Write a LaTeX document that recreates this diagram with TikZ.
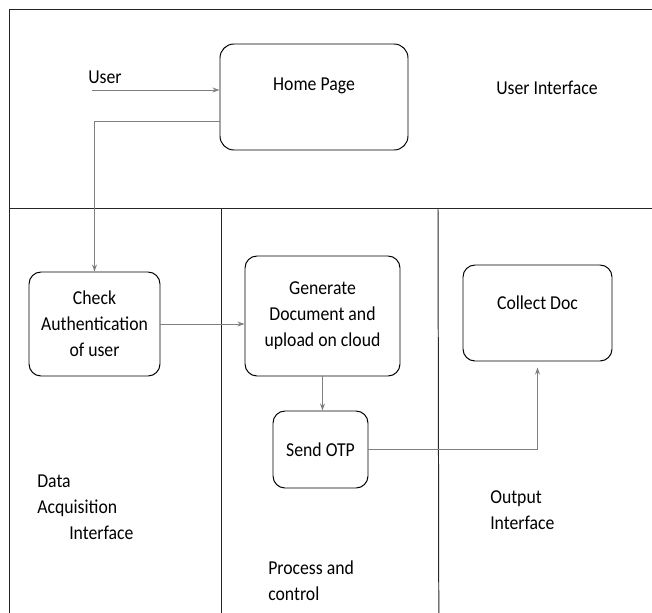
\documentclass[tikz,border=0pt]{standalone}
\usepackage{fontspec}
\setmainfont{Carlito}[FakeStretch=0.9]
\usetikzlibrary{arrows.meta, positioning, calc}
\definecolor{lanegray}{HTML}{262626}
\definecolor{flowgray}{HTML}{7F7F7F}

\begin{document}
\begin{tikzpicture}[
  font=\fontsize{14}{18.5}\selectfont,
  proc/.style={
    rectangle, rounded corners=0.3cm,
    draw=black, line width=0.7pt,
    align=center, inner sep=2pt
  },
  lane/.style={draw=lanegray, line width=0.7pt},
  conn/.style={-{Stealth[length=5pt, width=3.5pt]}, draw=flowgray, line width=0.6pt},
  caption/.style={align=left, inner sep=0pt, anchor=west}
]
  \useasboundingbox (0,0) rectangle (16.3,-15.325);

  % swim lanes
  \draw[lane] (16.3,-0.225) -- (0.225,-0.225) -- (0.225,-15.325);
  \draw[lane] (0.225,-5.2) -- (16.3,-5.2);
  \draw[lane] (5.525,-5.2) -- (5.525,-15.325);
  \draw[lane] (10.95,-5.2) -- (10.97,-15.325);

  % process boxes
  \node[proc, rounded corners=0.35cm, minimum width=4.7cm, minimum height=2.65cm] (home) at (7.85,-2.425) {};
  \node (homelbl) at ([yshift=0.28cm]home.center) {Home Page};
  \node[proc, minimum width=3.275cm, minimum height=2.6cm] (check) at (2.3625,-8.1) {Check\\Authentication\\of user};
  \node[proc, minimum width=3.875cm, minimum height=3cm] (gen) at (8.0625,-7.9) {Generate\\Document and\\upload on cloud};
  \node[proc, minimum width=2.375cm, minimum height=1.925cm] (otp) at (8.0125,-11.2375) {Send OTP};
  \node[proc, minimum width=3.725cm, minimum height=2.4cm] (collect) at (13.4375,-7.825) {};
  \node (collectlbl) at ([yshift=0.25cm]collect.center) {Collect Doc};

  % lane captions
  \node (user) at (2.625,-1.925) {User};
  \node (uilbl) at (13.675,-2.2) {User Interface};
  \node[caption] (dalbl) at (0.925,-12.675) {Data\\Acquisition\\\hspace{0.8cm}Interface};
  \node[caption] (outlbl) at (12.25,-12.75) {Output\\Interface};
  \node[caption] (pclbl) at (6.7,-14.525) {Process and\\control};

  % flow
  \coordinate (userin) at (2.3,-2.25);
  \draw[conn] (userin) -- (userin -| home.west);
  \draw[conn] ([yshift=-0.6cm]home.west) -| (check.north);
  \draw[conn] (check.east) -- (check.east -| gen.west);
  \draw[conn] (gen.south) -- (gen.south |- otp.north);
  \draw[conn, shorten >=0.15cm] (otp.east) -| (collect.south);
\end{tikzpicture}
\end{document}
